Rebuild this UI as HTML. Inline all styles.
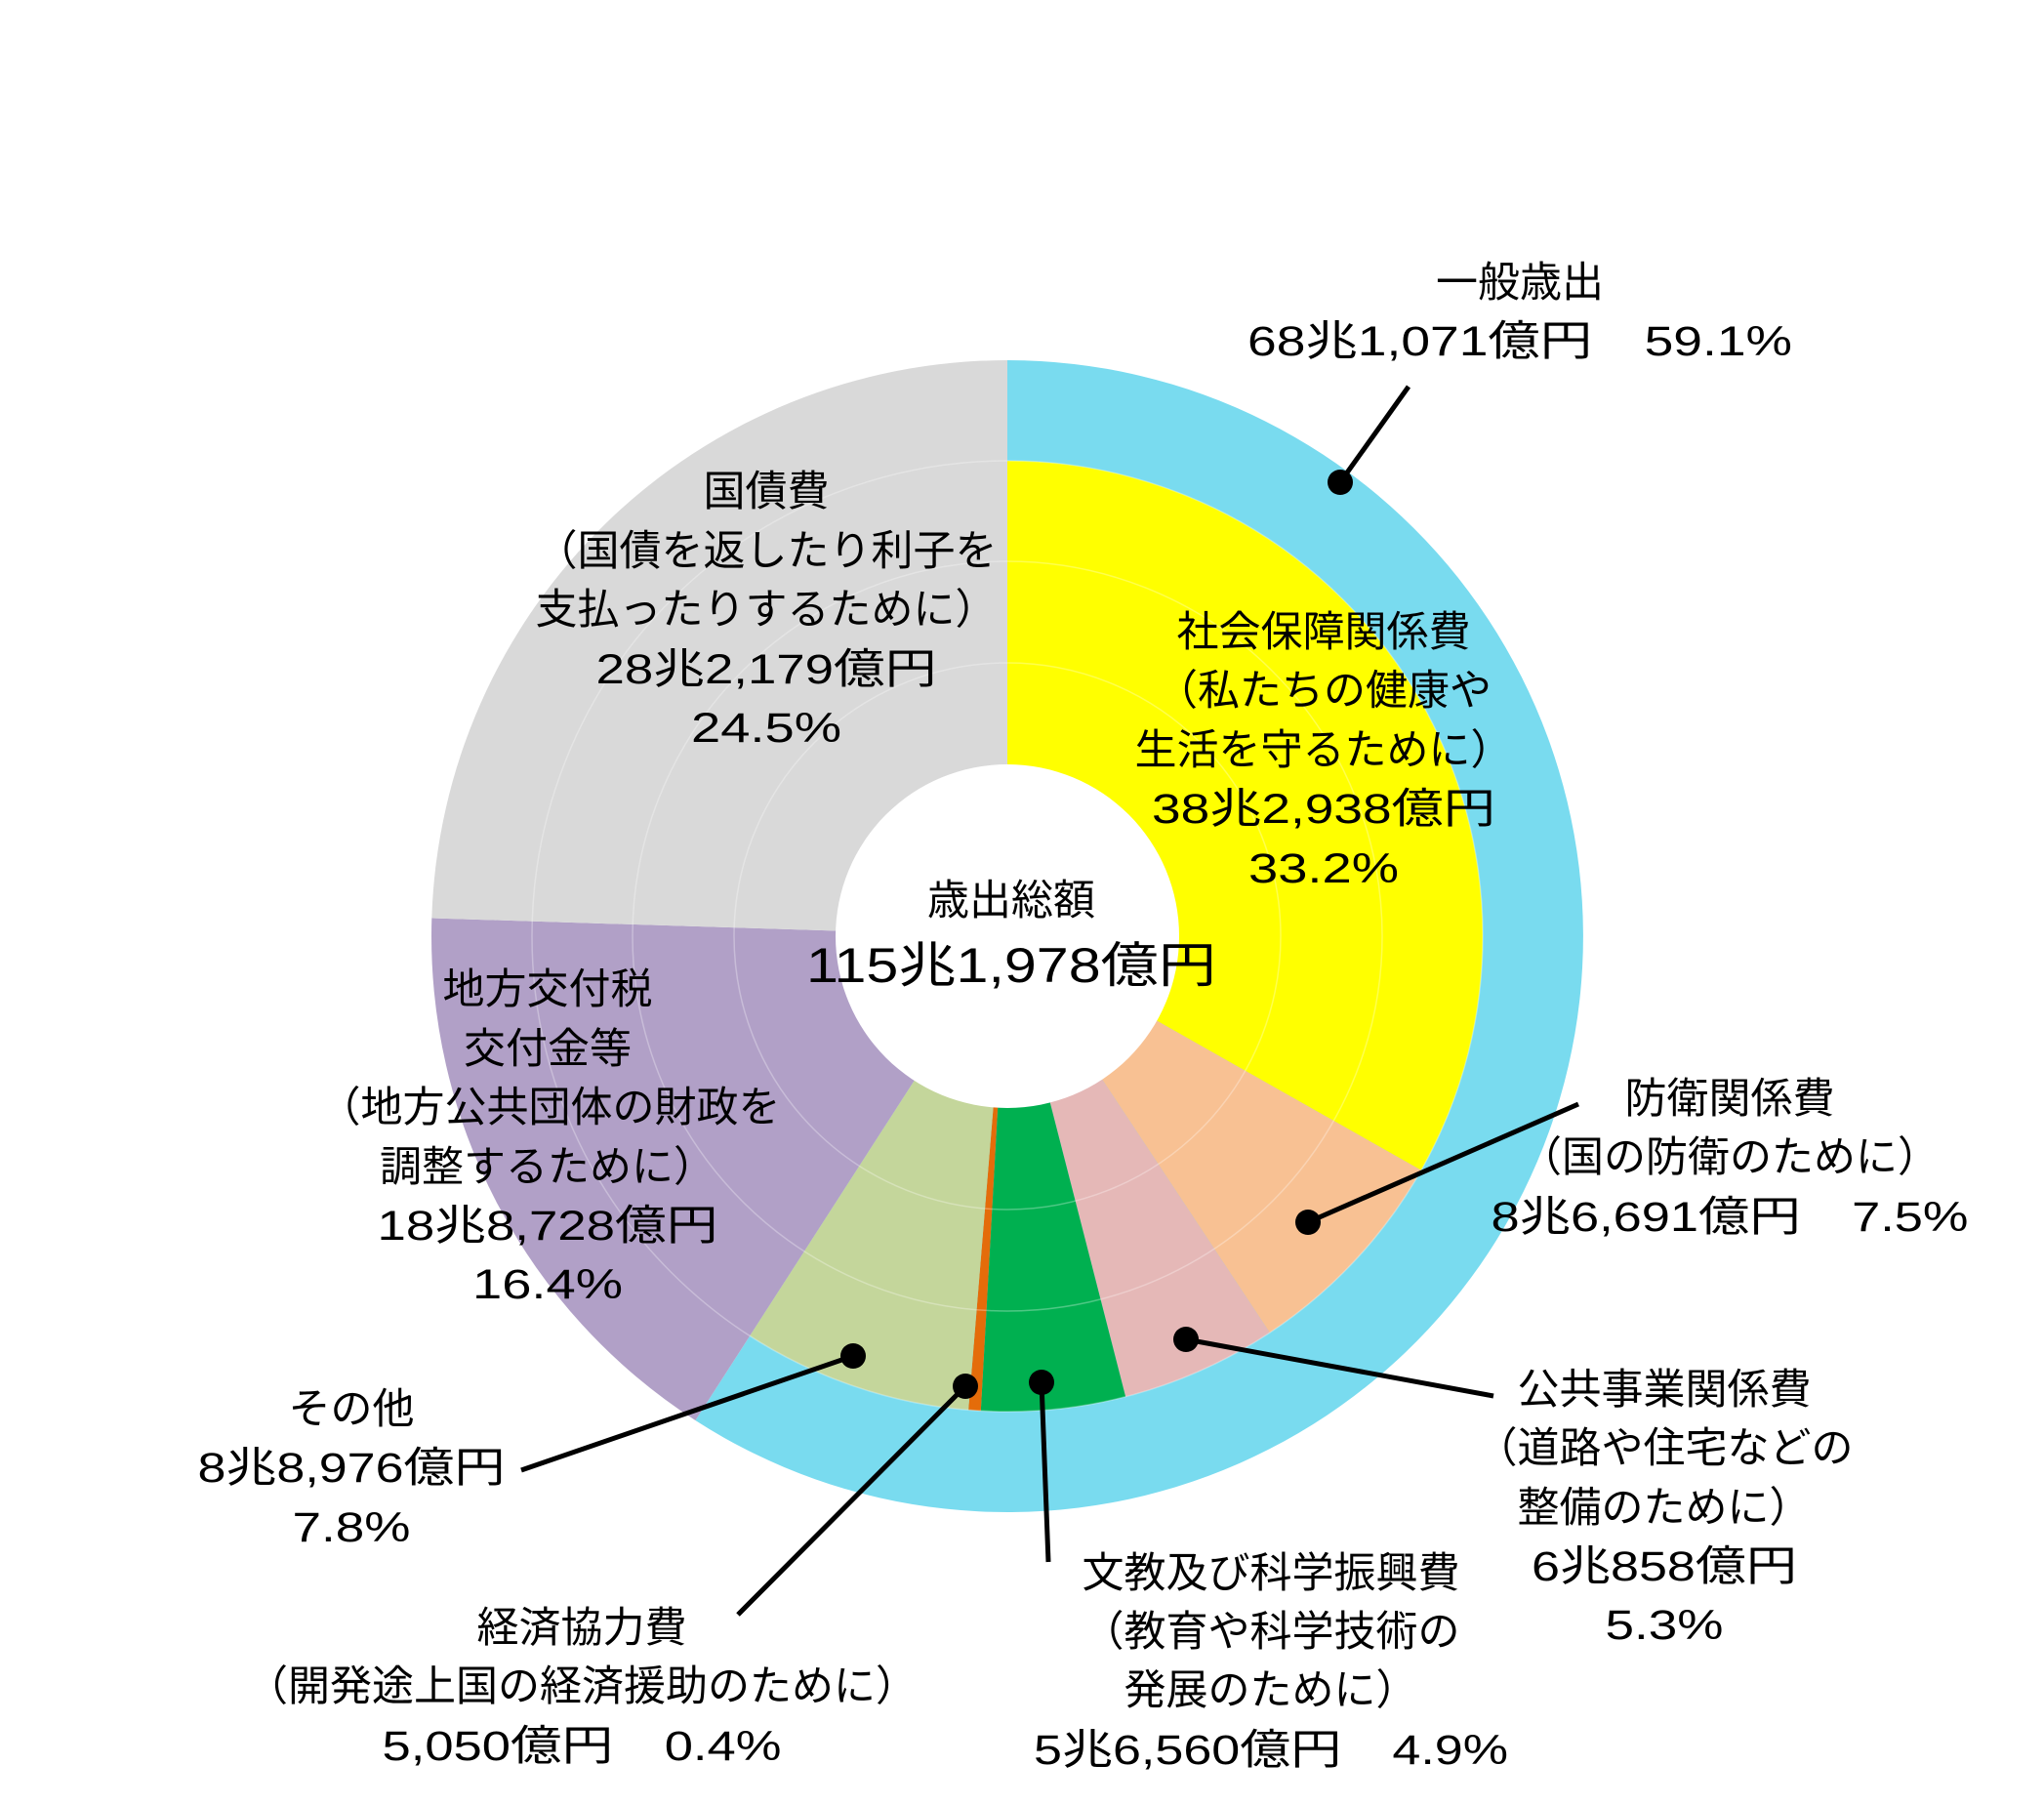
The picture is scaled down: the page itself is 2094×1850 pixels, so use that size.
<!DOCTYPE html>
<html><head><meta charset="utf-8"><style>
html,body{margin:0;padding:0;background:#fff;}
svg text{font-family:"Liberation Sans","Noto Sans CJK JP",sans-serif;font-size:43px;fill:#000;text-anchor:middle;}
</style></head><body>
<svg width="2094" height="1845" viewBox="0 0 2094 1845" xmlns="http://www.w3.org/2000/svg">
<rect width="2094" height="1845" fill="#fff"/>
<path d="M1032,959 L1032,369 A590,590 0 1 1 712.4,1455 Z" fill="#79dbef"/>
<path d="M1032,959 L712.4,1455 A590,590 0 0 1 442.3,940.5 Z" fill="#b1a0c7"/>
<path d="M1032,959 L442.3,940.5 A590,590 0 0 1 1032,369 Z" fill="#d9d9d9"/>
<path d="M1032,959 L1032,472 A487,487 0 0 1 1455.9,1198.8 Z" fill="#ffff00"/>
<path d="M1032,959 L1455.9,1198.8 A487,487 0 0 1 1300.8,1365.1 Z" fill="#f8c193"/>
<path d="M1032,959 L1300.8,1365.1 A487,487 0 0 1 1153.1,1430.7 Z" fill="#e5b8b7"/>
<path d="M1032,959 L1153.1,1430.7 A487,487 0 0 1 1004.8,1445.2 Z" fill="#00b050"/>
<path d="M1032,959 L1004.8,1445.2 A487,487 0 0 1 992.1,1444.3 Z" fill="#e46c0a"/>
<path d="M1032,959 L992.1,1444.3 A487,487 0 0 1 768.2,1368.4 Z" fill="#c4d69b"/>
<g fill="none" stroke="#fff" stroke-opacity="0.3" stroke-width="1.5">
<circle cx="1032" cy="959" r="280"/><circle cx="1032" cy="959" r="384"/><circle cx="1032" cy="959" r="487"/>
</g>
<circle cx="1032" cy="959" r="176" fill="#fff"/>
<g stroke="#000" stroke-width="5" fill="none">
<line x1="1443" y1="396" x2="1373" y2="494"/>
<line x1="1617" y1="1131" x2="1340" y2="1252"/>
<line x1="1530" y1="1430" x2="1215" y2="1372"/>
<line x1="1074" y1="1600" x2="1067" y2="1416"/>
<line x1="756" y1="1654" x2="989" y2="1420"/>
<line x1="534" y1="1506" x2="874" y2="1389"/>
</g>
<g fill="#000">
<circle cx="1373" cy="494" r="13"/><circle cx="1340" cy="1252" r="13"/><circle cx="1215" cy="1372" r="13"/>
<circle cx="1067" cy="1416" r="13"/><circle cx="989" cy="1420" r="13"/><circle cx="874" cy="1389" r="13"/>
</g>
<text x="1557" y="304">一般歳出</text>
<text x="1557" y="364" textLength="558" lengthAdjust="spacingAndGlyphs">68兆1,071億円　59.1%</text>
<text x="785" y="518">国債費</text>
<text x="785" y="579">（国債を返したり利子を</text>
<text x="785" y="639">支払ったりするために）</text>
<text x="785" y="700" textLength="349" lengthAdjust="spacingAndGlyphs">28兆2,179億円</text>
<text x="785" y="760" textLength="154" lengthAdjust="spacingAndGlyphs">24.5%</text>
<text x="1356" y="662">社会保障関係費</text>
<text x="1356" y="722">（私たちの健康や</text>
<text x="1356" y="783">生活を守るために）</text>
<text x="1356" y="843" textLength="352" lengthAdjust="spacingAndGlyphs">38兆2,938億円</text>
<text x="1356" y="904" textLength="154" lengthAdjust="spacingAndGlyphs">33.2%</text>
<text x="1036" y="937">歳出総額</text>
<text x="1036" y="1006" style="font-size:50px" textLength="420" lengthAdjust="spacingAndGlyphs">115兆1,978億円</text>
<text x="561" y="1028">地方交付税</text>
<text x="561" y="1089">交付金等</text>
<text x="563" y="1149">（地方公共団体の財政を</text>
<text x="561" y="1210">調整するために）</text>
<text x="561" y="1270" textLength="349" lengthAdjust="spacingAndGlyphs">18兆8,728億円</text>
<text x="561" y="1330" textLength="154" lengthAdjust="spacingAndGlyphs">16.4%</text>
<text x="1772" y="1140">防衛関係費</text>
<text x="1772" y="1200">（国の防衛のために）</text>
<text x="1772" y="1261" textLength="489" lengthAdjust="spacingAndGlyphs">8兆6,691億円　7.5%</text>
<text x="1705" y="1438">公共事業関係費</text>
<text x="1705" y="1498">（道路や住宅などの</text>
<text x="1705" y="1559">整備のために）</text>
<text x="1705" y="1619" textLength="272" lengthAdjust="spacingAndGlyphs">6兆858億円</text>
<text x="1705" y="1679" textLength="121" lengthAdjust="spacingAndGlyphs">5.3%</text>
<text x="1302" y="1626">文教及び科学振興費</text>
<text x="1302" y="1686">（教育や科学技術の</text>
<text x="1302" y="1746">発展のために）</text>
<text x="1302" y="1807" textLength="486" lengthAdjust="spacingAndGlyphs">5兆6,560億円　4.9%</text>
<text x="596" y="1682">経済協力費</text>
<text x="596" y="1742">（開発途上国の経済援助のために）</text>
<text x="596" y="1803" textLength="409" lengthAdjust="spacingAndGlyphs">5,050億円　0.4%</text>
<text x="360" y="1458">その他</text>
<text x="360" y="1518" textLength="315" lengthAdjust="spacingAndGlyphs">8兆8,976億円</text>
<text x="360" y="1579" textLength="121" lengthAdjust="spacingAndGlyphs">7.8%</text>
</svg>
</body></html>
